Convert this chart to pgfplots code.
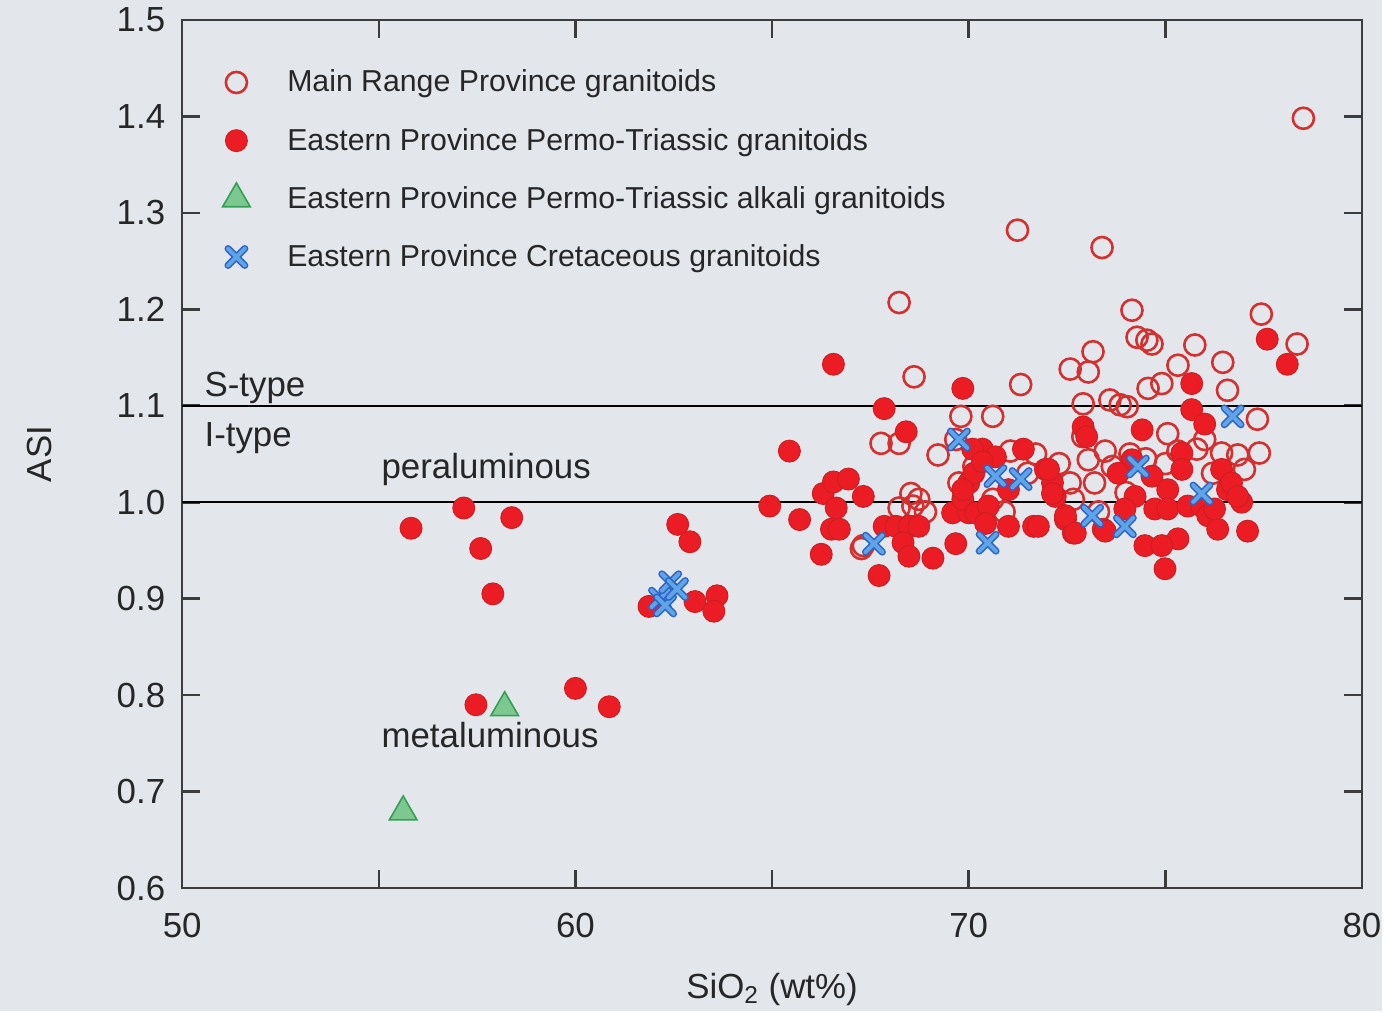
\documentclass[border=0pt]{standalone}
\usepackage{fontspec}
\setmainfont{Liberation Sans}
\usepackage{pgfplots}
\pgfplotsset{compat=1.18}
\usetikzlibrary{backgrounds}
\definecolor{bgc}{RGB}{227,230,235}
\definecolor{axc}{RGB}{60,60,60}
\definecolor{redf}{RGB}{236,28,36}
\definecolor{rede}{RGB}{205,30,35}
\definecolor{redo}{RGB}{212,48,48}
\definecolor{grf}{RGB}{125,200,145}
\definecolor{gre}{RGB}{50,160,85}
\definecolor{xf}{RGB}{95,165,230}
\definecolor{xe}{RGB}{45,100,200}
\pgfdeclareplotmark{bluex}{%
  \pgfsetroundcap
  \pgfsetlinewidth{3.6pt}\pgfsetstrokecolor{xe}%
  \pgfpathmoveto{\pgfqpoint{-\pgfplotmarksize}{-\pgfplotmarksize}}\pgfpathlineto{\pgfqpoint{\pgfplotmarksize}{\pgfplotmarksize}}%
  \pgfpathmoveto{\pgfqpoint{-\pgfplotmarksize}{\pgfplotmarksize}}\pgfpathlineto{\pgfqpoint{\pgfplotmarksize}{-\pgfplotmarksize}}%
  \pgfusepathqstroke
  \pgfsetlinewidth{2.0pt}\pgfsetstrokecolor{xf}%
  \pgfpathmoveto{\pgfqpoint{-\pgfplotmarksize}{-\pgfplotmarksize}}\pgfpathlineto{\pgfqpoint{\pgfplotmarksize}{\pgfplotmarksize}}%
  \pgfpathmoveto{\pgfqpoint{-\pgfplotmarksize}{\pgfplotmarksize}}\pgfpathlineto{\pgfqpoint{\pgfplotmarksize}{-\pgfplotmarksize}}%
  \pgfusepathqstroke
}
\begin{document}
\begin{tikzpicture}
\begin{axis}[
  scale only axis,
  width=592.5pt, height=436pt,
  xmin=50, xmax=80, ymin=0.6, ymax=1.5,
  axis line style={axc, line width=1.3pt},
  tick style={axc, line width=1.3pt},
  tick align=inside,
  major tick length=9pt,
  xtick={50,55,...,80},
  xticklabels={50,,60,,70,,80},
  ytick={0.6,0.7,...,1.5},
  yticklabel style={/pgf/number format/fixed,/pgf/number format/fixed zerofill,/pgf/number format/precision=1, xshift=-5pt},
  xticklabel style={yshift=-9pt},
  /pgf/number format/assume math mode=true,
  tick label style={font=\fontsize{17.5}{20}\selectfont, text=black!85},
  label style={font=\fontsize{17.5}{20}\selectfont, text=black!85},
  xlabel={SiO\textsubscript{2} (wt\%)},
  ylabel={ASI},
  xlabel style={at={(axis description cs:0.5,-0.117)}, anchor=center},
  ylabel style={at={(axis description cs:-0.1207,0.5)}, anchor=center},
  legend cell align=left,
  legend style={draw=none, fill=none, inner sep=0pt, at={(axis description cs:0.0165,0.9473)}, anchor=north west,
    font=\fontsize{15.2}{17}\selectfont, text=black!85, row sep=12.7pt},
  legend image code/.code={\path (0cm,0cm) (1.42cm,0cm); \draw[mark repeat=2,mark phase=2,#1] plot coordinates {(0cm,0cm) (0.6cm,0cm) (1.2cm,0cm)};},
]
\coordinate (bgSW) at (rel axis cs:-0.1544,-0.1411);
\coordinate (bgNE) at (rel axis cs:1.0169,1.0229);
\addplot[forget plot, black, line width=1pt] coordinates {(50,1.0) (80,1.0)};
\addplot[forget plot, black, line width=1pt] coordinates {(50,1.1) (80,1.1)};
% Main Range Province granitoids
\addplot[only marks, mark=o, mark size=5.3pt, redo, mark options={line width=1.3pt}] coordinates {
(78.51,1.398) (71.24,1.282) (73.39,1.264) (68.23,1.207) (74.15,1.199) (77.44,1.195)
(74.28,1.171) (74.53,1.168) (74.66,1.164) (78.35,1.164) (75.75,1.163) (73.16,1.156)
(72.58,1.138) (73.04,1.135) (76.46,1.145) (75.32,1.142) (68.61,1.130) (74.91,1.123)
(74.56,1.118) (71.32,1.122) (76.58,1.116) (72.91,1.102) (73.59,1.106) (73.85,1.101)
(74.03,1.099) (69.80,1.089) (70.61,1.089) (77.34,1.086) (67.77,1.061) (68.23,1.061)
(69.22,1.049) (69.67,1.065) (71.06,1.053) (71.70,1.050) (73.65,1.037) (73.47,1.053)
(72.90,1.068) (75.06,1.071) (75.32,1.053) (76.00,1.065) (76.43,1.051) (76.84,1.049)
(77.39,1.051) (77.01,1.034) (68.53,1.009) (68.73,1.003) (68.23,0.994) (68.58,0.996)
(67.27,0.952) (67.32,0.955) (69.75,1.020) (72.58,1.020) (72.66,1.003) (70.13,1.037)
(70.61,1.003) (73.04,1.044) (73.20,1.020) (74.00,1.010) (73.30,0.990) (74.50,1.045)
(75.80,1.055) (76.20,1.030) (70.90,0.990) (71.50,1.030) (72.30,1.040) (75.00,1.040)
(74.10,1.050) (68.90,0.990)
};
\addlegendentry{Main Range Province granitoids}
% Eastern Province Permo-Triassic granitoids
\addplot[only marks, mark=*, mark size=5.5pt, mark options={fill=redf, draw=rede, line width=0.5pt}] coordinates {
(55.82,0.973) (57.16,0.994) (57.59,0.952) (58.38,0.984) (57.90,0.905) (57.47,0.790)
(60.00,0.807) (60.86,0.788) (61.87,0.892) (62.60,0.977) (62.91,0.959) (63.04,0.897)
(63.60,0.903) (63.52,0.887)
(66.56,1.143) (67.85,1.097) (68.41,1.073) (69.85,1.118) (65.44,1.053) (64.94,0.996)
(65.70,0.982) (66.30,1.009) (66.56,1.021) (66.94,1.024) (67.32,1.006) (66.63,0.994)
(66.51,0.972) (66.25,0.946) (66.71,0.972) (67.72,0.924) (67.85,0.975) (68.15,0.975)
(68.48,0.975) (68.73,0.975) (68.33,0.958) (68.48,0.944) (69.09,0.942) (69.59,0.989)
(69.67,0.957) (70.00,0.989) (69.85,1.003) (70.00,1.020) (70.13,1.030) (70.35,1.055)
(70.68,1.047) (71.39,1.055) (71.95,1.034) (72.13,1.020) (72.20,1.006) (69.85,1.013)
(70.18,0.989) (71.01,1.013) (71.01,0.975) (71.65,0.975) (72.46,0.982) (72.66,0.968)
(73.42,0.972) (72.91,1.078) (73.00,1.068) (74.41,1.075) (75.67,1.123) (75.67,1.096)
(76.00,1.081) (75.42,1.051) (75.42,1.034) (74.15,1.044) (73.80,1.030) (74.66,1.027)
(75.06,1.013) (74.23,1.006) (73.97,0.993) (74.73,0.993) (75.06,0.993) (75.57,0.996)
(75.92,0.996) (76.43,1.034) (76.58,1.013) (76.94,1.000) (76.08,0.986) (76.33,0.972)
(77.09,0.970) (74.48,0.955) (74.99,0.931) (75.32,0.962) (72.03,1.034) (72.13,1.009)
(72.46,0.986) (72.71,0.968) (73.47,0.970) (71.77,0.975) (74.91,0.955) (76.68,1.020)
(76.84,1.006) (76.25,0.993) (77.59,1.169) (78.10,1.143) (70.10,1.055) (70.35,1.042)
(70.50,0.996) (70.43,0.978)
};
\addlegendentry{Eastern Province Permo-Triassic granitoids}
% Eastern Province Permo-Triassic alkali granitoids
\addplot[only marks, mark=triangle*, mark size=8pt, mark options={fill=grf, draw=gre, line width=0.8pt}] coordinates {
(55.62,0.679) (58.20,0.787)
};
\addlegendentry{Eastern Province Permo-Triassic alkali granitoids}
% Eastern Province Cretaceous granitoids
\addplot[only marks, mark=bluex, mark size=4.2pt] coordinates {
(62.15,0.900) (62.28,0.893) (62.41,0.917) (62.58,0.910) (67.59,0.957) (69.75,1.065)
(70.48,0.958) (70.68,1.027) (71.32,1.024) (73.14,0.986) (73.97,0.975) (74.30,1.037)
(75.92,1.009) (76.71,1.089)
};
\addlegendentry{Eastern Province Cretaceous granitoids}
\node[anchor=base west, inner sep=0pt, font=\fontsize{17.5}{20}\selectfont, text=black!85] at (axis cs:50.56,1.110) {S-type};
\node[anchor=base west, inner sep=0pt, font=\fontsize{17.5}{20}\selectfont, text=black!85] at (axis cs:50.56,1.058) {I-type};
\node[anchor=base west, inner sep=0pt, font=\fontsize{17.5}{20}\selectfont, text=black!85] at (axis cs:55.06,1.025) {peraluminous};
\node[anchor=base west, inner sep=0pt, font=\fontsize{17.5}{20}\selectfont, text=black!85] at (axis cs:55.06,0.746) {metaluminous};
\end{axis}
\begin{scope}[on background layer]
\fill[bgc] (bgSW) rectangle (bgNE);
\end{scope}
\end{tikzpicture}
\end{document}
